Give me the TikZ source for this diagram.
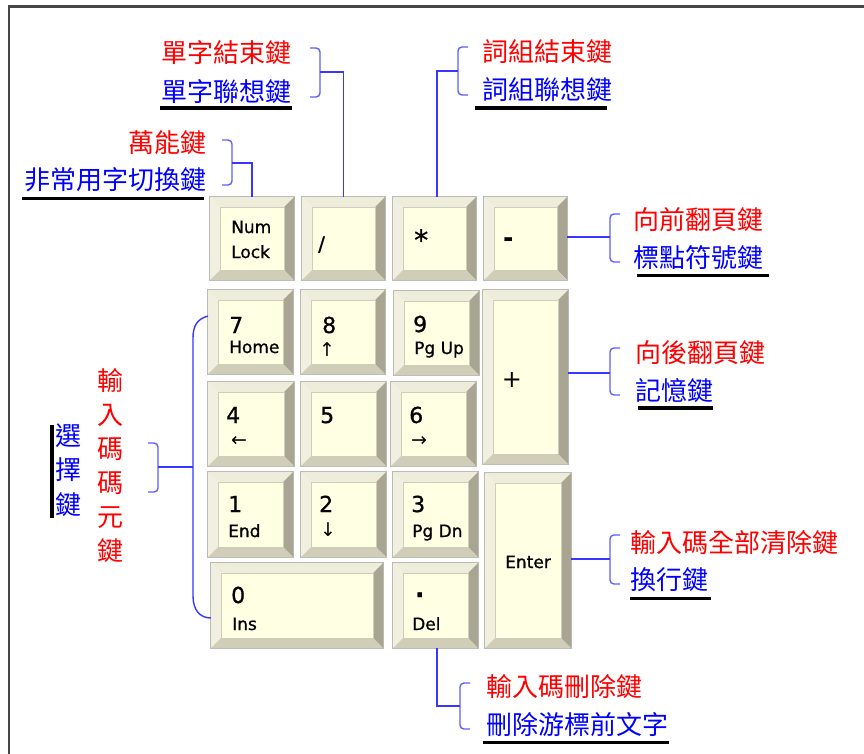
\documentclass[tikz,border=0pt]{standalone}
\usepackage{fontspec}
\newfontfamily\cjk{Noto Sans CJK TC}
\newfontfamily\dvs[FakeBold=0.9]{DejaVu Sans}
\newfontfamily\dvsa{DejaVu Sans}
\usetikzlibrary{calc}
\definecolor{keyface}{RGB}{255,255,228}
\definecolor{keytop}{RGB}{238,236,218}
\definecolor{keyleft}{RGB}{241,240,224}
\definecolor{keyright}{RGB}{168,166,146}
\definecolor{keybot}{RGB}{208,205,184}
\definecolor{keyedge}{RGB}{188,188,182}
\definecolor{lnblue}{RGB}{55,55,255}
\definecolor{brblue}{RGB}{95,95,255}
\definecolor{txtred}{RGB}{255,0,0}
\definecolor{txtblue}{RGB}{0,0,255}
\definecolor{framecol}{RGB}{70,70,70}
\tikzset{
  redtxt/.style={inner sep=0pt, text=txtred, font=\cjk\fontsize{26}{30}\selectfont},
  bluetxt/.style={inner sep=0pt, text=txtblue, font=\cjk\fontsize{26}{30}\selectfont},
  vred/.style={inner sep=0pt, text=txtred, align=center, font=\cjk\fontsize{26}{34}\selectfont},
  vblue/.style={inner sep=0pt, text=txtblue, align=center, font=\cjk\fontsize{26}{34.5}\selectfont},
  conn/.style={draw=lnblue, line width=1.4pt},
  brk/.style={draw=brblue, line width=1.4pt, rounded corners=4pt},
  ubar/.style={draw=black, line width=3.5pt},
  klab/.style={inner sep=0pt, anchor=base west, font=\dvs\fontsize{17}{20}\selectfont},
  kdig/.style={inner sep=0pt, anchor=base west, font=\dvs\fontsize{22}{24}\selectfont},
  karr/.style={inner sep=0pt, anchor=center, font=\dvsa\fontsize{19}{21}\selectfont},
}
\newcommand\kcap[5]{%
  \draw[keyedge, line width=1.2pt] (#2,#3) rectangle (#4,#5);
  \fill[keytop] (#2,#3) -- (#4,#3) -- (#4-10,#3+10) -- (#2+10,#3+10) -- cycle;
  \fill[keyleft] (#2,#3) -- (#2+10,#3+10) -- (#2+10,#5-10) -- (#2,#5) -- cycle;
  \fill[keyright] (#4,#3) -- (#4,#5) -- (#4-10,#5-10) -- (#4-10,#3+10) -- cycle;
  \fill[keybot] (#2,#5) -- (#4,#5) -- (#4-10,#5-10) -- (#2+10,#5-10) -- cycle;
  \draw[keybot, line width=0.6pt, fill=keyface] (#2+10,#3+10) rectangle (#4-10,#5-10);
  \node[inner sep=0pt, outer sep=0pt, minimum width={(#4-#2)*1pt}, minimum height={(#5-#3)*1pt}] (#1) at ({(#2+#4)/2},{(#3+#5)/2}) {};
}
\newcommand\lbr[3]{\draw[brk] (#1+10,#2) -- (#1,#2) -- (#1,#3) -- (#1+10,#3);}
\newcommand\rbr[3]{\draw[brk] (#1-10,#2) -- (#1,#2) -- (#1,#3) -- (#1-10,#3);}
\begin{document}
\begin{tikzpicture}[x=1pt, y=-1pt]
\useasboundingbox (0,0) rectangle (864,753);
\fill[white] (0,0) rectangle (864,753);
\draw[framecol, line width=2.5pt] (9,754) -- (9,6.5) -- (865,6.5);

% keys
\kcap{knum}{210}{197}{294}{280}
\kcap{kslash}{302}{197}{385}{280}
\kcap{kstar}{393}{197}{476}{280}
\kcap{kminus}{484}{197}{567}{280}
\kcap{k7}{208}{290}{293}{374}
\kcap{k8}{301}{290}{385}{374}
\kcap{k9}{394}{291}{479}{375}
\kcap{kplus}{483}{290}{568}{464}
\kcap{k4}{208}{382}{294}{466}
\kcap{k5}{301}{382}{386}{466}
\kcap{k6}{391}{382}{476}{466}
\kcap{k1}{208}{472}{293}{557}
\kcap{k2}{301}{472}{386}{557}
\kcap{k3}{393}{472}{478}{557}
\kcap{kenter}{485}{473}{571}{648}
\kcap{k0}{211}{563}{383}{648}
\kcap{kdel}{393}{563}{478}{648}

% key labels
\node[klab] (lnum) at (231,233) {Num};
\node[klab] (llock) at (231,258) {Lock};
\node[kdig, font=\dvs\fontsize{20}{22}\selectfont] (lslash) at (318,251) {/};
\node[kdig, font=\dvs\fontsize{28}{30}\selectfont] (lstar) at (414,250) {*};
\node[kdig, font=\dvs\bfseries\fontsize{24}{26}\selectfont] (lminus) at (503,246) {-};
\node[inner sep=0pt, anchor=base, font=\dvsa\fontsize{24}{26}\selectfont] (lplus) at (512,387) {+};
\node[kdig] (l7) at (229,333) {7};
\node[klab] (lhome) at (229,353) {Home};
\node[kdig] (l8) at (322,333) {8};
\node[karr] (lup) at (327,350) {↑};
\node[kdig] (l9) at (413,332) {9};
\node[klab] (lpgup) at (414,354) {Pg Up};
\node[kdig] (l4) at (226,423) {4};
\node[karr] (lleft) at (239,441) {←};
\node[kdig] (l5) at (320,423) {5};
\node[kdig] (l6) at (409,423) {6};
\node[karr] (lright) at (419,441) {→};
\node[kdig] (l1) at (228,512) {1};
\node[klab] (lend) at (228,537) {End};
\node[kdig] (l2) at (319,512) {2};
\node[karr] (ldown) at (328,530) {↓};
\node[kdig] (l3) at (411,512) {3};
\node[klab] (lpgdn) at (412,537) {Pg Dn};
\node[kdig] (l0) at (231,603) {0};
\node[klab] (lins) at (232,630) {Ins};
\node[kdig, font=\dvs\bfseries\fontsize{24}{26}\selectfont] (ldot) at (415,597) {.};
\node[klab] (ldel) at (412,630) {Del};
\node[klab] (lenter) at (505,568) {Enter};

% annotation texts
\node[redtxt, anchor=east] (t1r) at (292,53) {單字結束鍵};
\node[bluetxt, anchor=east] (t1b) at (292,92) {單字聯想鍵};
\node[redtxt, anchor=east] (t2r) at (207,143) {萬能鍵};
\node[bluetxt, anchor=east] (t2b) at (207,180) {非常用字切換鍵};
\node[redtxt, anchor=west] (t3r) at (482,52) {詞組結束鍵};
\node[bluetxt, anchor=west] (t3b) at (482,90) {詞組聯想鍵};
\node[redtxt, anchor=west] (t4r) at (633,220) {向前翻頁鍵};
\node[bluetxt, anchor=west] (t4b) at (633,258) {標點符號鍵};
\node[redtxt, anchor=west] (t5r) at (635,353) {向後翻頁鍵};
\node[bluetxt, anchor=west] (t5b) at (635,391) {記憶鍵};
\node[redtxt, anchor=west] (t6r) at (630,543) {輸入碼全部清除鍵};
\node[bluetxt, anchor=west] (t6b) at (630,580) {換行鍵};
\node[redtxt, anchor=west] (t7r) at (486,687) {輸入碼刪除鍵};
\node[bluetxt, anchor=west] (t7b) at (486,725) {刪除游標前文字};
\node[vred] (t8r) at (110,466) {輸\\入\\碼\\碼\\元\\鍵};
\node[vblue] (t8b) at (68,470) {選\\擇\\鍵};

% black bars under blue texts
\draw[ubar] (160,108) -- (292,108);
\draw[ubar] (22,198.5) -- (204,198.5);
\draw[ubar] (475,108) -- (607,108);
\draw[ubar] (637,275.5) -- (769,275.5);
\draw[ubar] (638,408) -- (713,408);
\draw[ubar] (630,598.5) -- (711,598.5);
\draw[ubar] (483,742.5) -- (669,742.5);
\draw[ubar] (52,425) -- (52,518);

% brackets
\rbr{320}{48}{97}
\rbr{232}{140}{185}
\lbr{458}{47}{95}
\lbr{610}{214}{262}
\lbr{610}{348}{395}
\lbr{610}{535}{584}
\lbr{460}{683}{729}
\rbr{158}{443}{492}
\coordinate (b1) at (320,72);
\coordinate (b2) at (232,163);
\coordinate (b3) at (458,71);
\coordinate (b4) at (610,237);
\coordinate (b5) at (610,373);
\coordinate (b6) at (610,559);
\coordinate (b7) at (460,706);
\coordinate (b8) at (158,467);
\coordinate (bv) at (193,467);

% connectors
\draw[conn] (b1) -| (kslash.north);
\draw[conn] (b2) -| (knum.north);
\draw[conn] (b3) -| ([xshift=2.5pt]kstar.north);
\draw[conn] (kminus.east |- b4) -- (b4);
\draw[conn] (kplus.east |- b5) -- (b5);
\draw[conn] (kenter.east |- b6) -- (b6);
\draw[conn] ([xshift=1.5pt]kdel.south) |- (b7);
\draw[conn] (b8) -- (bv);
\draw[conn] ([yshift=16pt]k7.west) .. controls (197,319) and (193,326) .. (193,338) -- (bv) -- (193,596) .. controls (193,610) and (200,618) .. ([yshift=-12.5pt]k0.west);
\end{tikzpicture}
\end{document}
